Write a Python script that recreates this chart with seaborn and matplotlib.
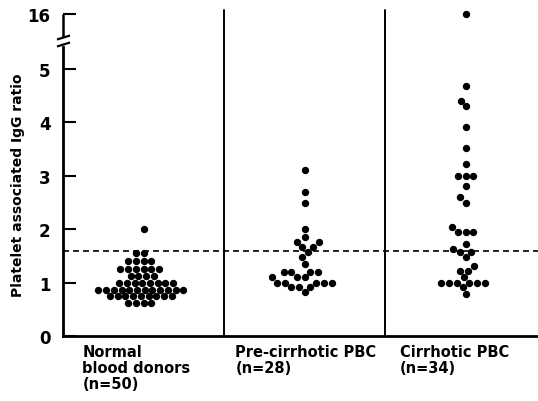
import numpy as np
import pandas as pd
import matplotlib
matplotlib.use("Agg")
import matplotlib.pyplot as plt
import seaborn as sns
from matplotlib.lines import Line2D

sns.set_theme(style="white")
plt.rcParams['font.family'] = ['DejaVu Sans']
plt.rcParams['font.weight'] = 'bold'
plt.rcParams['text.color'] = 'black'
plt.rcParams['axes.labelcolor'] = 'black'
plt.rcParams['ytick.color'] = 'black'
plt.rcParams['ytick.direction'] = 'in'
plt.rcParams['ytick.left'] = True

# ---- data ----
categories = ["Normal\nblood donors\n(n=50)", "Pre-cirrhotic PBC\n(n=28)", "Cirrhotic PBC\n(n=34)"]
normal = [2.0,
          1.55, 1.55,
          1.4, 1.4, 1.4, 1.4,
          1.25, 1.25, 1.25, 1.25, 1.25, 1.25,
          1.12, 1.12, 1.12, 1.12,
          1.0, 1.0, 1.0, 1.0, 1.0, 1.0, 1.0, 1.0,
          0.87, 0.87, 0.87, 0.87, 0.87, 0.87, 0.87, 0.87, 0.87, 0.87, 0.87, 0.87,
          0.75, 0.75, 0.75, 0.75, 0.75, 0.75, 0.75, 0.75, 0.75,
          0.62, 0.62, 0.62, 0.62]
pre_cirrhotic = [3.1, 2.7, 2.5, 2.0, 1.85, 1.76, 1.76, 1.67, 1.67, 1.57, 1.48, 1.35,
                 1.2, 1.2, 1.2, 1.2, 1.1, 1.1, 1.1,
                 1.0, 1.0, 1.0, 1.0, 1.0, 0.92, 0.92, 0.92, 0.82]
cirrhotic = [16.0, 4.68, 4.41, 4.3, 3.91, 3.52, 3.22, 3.0, 3.0, 3.0, 2.81, 2.6, 2.5,
             2.04, 1.95, 1.95, 1.95, 1.72, 1.63, 1.57, 1.57, 1.48, 1.31, 1.22, 1.22,
             1.1, 1.0, 1.0, 1.0, 1.0, 1.0, 1.0, 0.92, 0.79]
ytick_values = [0, 1, 2, 3, 4, 5, 16]
ytick_labels = ["0", "1", "2", "3", "4", "5", "16"]
cutoff = 1.6

df = pd.DataFrame({
    "group": [categories[0]] * len(normal) + [categories[1]] * len(pre_cirrhotic) + [categories[2]] * len(cirrhotic),
    "ratio": normal + pre_cirrhotic + cirrhotic,
})

# broken-axis scale: linear up to 5.5, compressed above
BRK, K = 5.5, 0.05
def fwd(y):
    y = np.asarray(y, dtype=float)
    return np.where(y <= BRK, y, BRK + (y - BRK) * K)
def inv(y):
    y = np.asarray(y, dtype=float)
    return np.where(y <= BRK, y, BRK + (y - BRK) / K)

W, H = 538, 402
fig = plt.figure(figsize=(W / 100, H / 100), dpi=100)
L, R, B, T = 63, 538, 337, 14
ax = fig.add_axes([L / W, (H - B) / H, (R - L) / W, (B - T) / H])
ax.set_yscale('function', functions=(fwd, inv))
ax.set_ylim(0, 16.5)

sns.swarmplot(data=df, x="group", y="ratio", order=categories, color="black",
              size=5.3, linewidth=0, ax=ax, clip_on=False, zorder=3)
ax.set_xlim(-0.5, 2.45)
ax.set_ylim(0, 16.5)

# reference line and separators
ax.axhline(cutoff, color="black", lw=1.2, ls=(0, (3.6, 2.4)), zorder=2)
for xs in [0.5, 1.5]:
    ax.axvline(xs, ymin=0, ymax=1.01, color="black", lw=1.4, clip_on=False, zorder=1)

# spines
for s in ["top", "right"]:
    ax.spines[s].set_visible(False)
ax.spines["left"].set_linewidth(2)
ax.spines["bottom"].set_linewidth(2)
ax.spines["left"].set_color("black")
ax.spines["bottom"].set_color("black")
ax.spines["left"].set_bounds(0, 5.42)

# y ticks
ax.set_yticks(ytick_values)
ax.set_yticklabels(ytick_labels, fontsize=12, fontweight="bold")
ax.tick_params(axis="y", which="major", direction="in", length=9, width=1.5, pad=9,
               color="black", left=True, labelleft=True)
ax.set_ylabel("Platelet associated IgG ratio", fontsize=10, fontweight="bold")
ax.yaxis.set_label_coords(-0.08, 0.47)

# x labels: left-aligned blocks below the axis
ax.set_xticks([])
ax.set_xlabel("")
label_offsets = [-0.38, -0.43, -0.41]
for i, (cat, off) in enumerate(zip(categories, label_offsets)):
    ax.text(i + off, -0.025, cat, transform=ax.get_xaxis_transform(), ha="left", va="top",
            fontsize=10.5, fontweight="bold", linespacing=1.1)

# broken-axis decorations (pixel -> axes fraction)
def af(px, py):
    return (px - L) / (R - L), (B - py) / (B - T)
def seg(p1, p2, lw=1.8):
    (x1, y1), (x2, y2) = af(*p1), af(*p2)
    ax.add_line(Line2D([x1, x2], [y1, y2], transform=ax.transAxes, color="black",
                       lw=lw, clip_on=False, solid_capstyle="butt"))
seg((63, 15), (63, 38))
seg((57, 40.5), (70, 36.5), lw=1.6)
seg((57, 47.5), (70, 43.5), lw=1.6)

fig.savefig("out.png", dpi=100)
